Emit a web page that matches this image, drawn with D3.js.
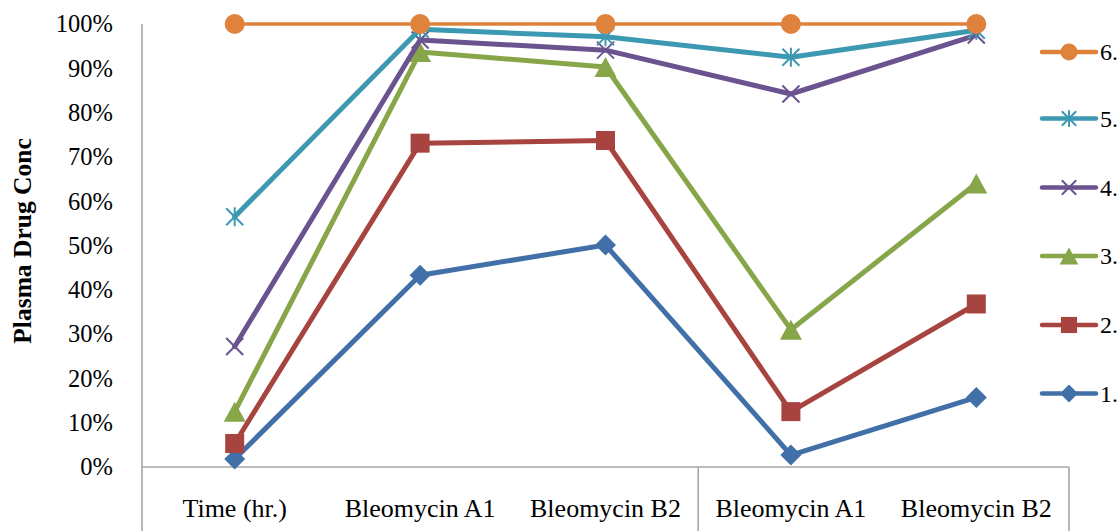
<!DOCTYPE html>
<html><head><meta charset="utf-8">
<script src="https://cdn.jsdelivr.net/npm/d3@7"></script>
<style>body{margin:0;background:#fff}svg{display:block}</style>
</head><body>
<svg id="c" width="1120" height="531"></svg>
<script>
const categories = ["Time (hr.)", "Bleomycin A1", "Bleomycin B2", "Bleomycin A1", "Bleomycin B2"];
const seriesNames = ["1.", "2.", "3.", "4.", "5.", "6."];
const s1 = [0.018, 0.433, 0.501, 0.027, 0.157];
const s2 = [0.053, 0.731, 0.737, 0.125, 0.368];
const s3 = [0.125, 0.937, 0.903, 0.310, 0.640];
const s4 = [0.272, 0.964, 0.941, 0.842, 0.975];
const s5 = [0.565, 0.988, 0.971, 0.925, 0.986];
const s6 = [1.0, 1.0, 1.0, 1.0, 1.0];
const yTicks = [0, 0.1, 0.2, 0.3, 0.4, 0.5, 0.6, 0.7, 0.8, 0.9, 1.0];

const seriesValues = [s1, s2, s3, s4, s5, s6];
const colors = ["#4170A8", "#A8443F", "#87A64A", "#6B5390", "#3D99B1", "#DE823C"];
const markers = ["diamond", "square", "triangle", "x", "asterisk", "circle"];
const widths = [5, 5, 5, 5, 5, 3.5];

const svg = d3.select("#c");
const L = 142, R = 1069, T = 24, B = 467;
const x = d3.scaleBand().domain(d3.range(categories.length)).range([L, R]);
const y = d3.scaleLinear().domain([0, 1]).range([B, T]);
const cx = i => x(i) + x.bandwidth() / 2;
const serif = "Liberation Serif, Times New Roman, serif";

// axes
const yAxis = svg.append("g").attr("transform", `translate(${L},0)`)
  .call(d3.axisLeft(y).tickValues(yTicks).tickFormat(d3.format(".0%")).tickSize(0).tickPadding(29));
yAxis.select(".domain").remove();
yAxis.selectAll("text").attr("font-family", serif).attr("font-size", 24.5).attr("fill", "#000");

const grey = "#A6A6A6";
svg.append("line").attr("x1", L).attr("x2", L).attr("y1", T).attr("y2", 531).attr("stroke", grey).attr("stroke-width", 1.6);
svg.append("line").attr("x1", L).attr("x2", R).attr("y1", B).attr("y2", B).attr("stroke", grey).attr("stroke-width", 1.6);
[3, 5].forEach(k => {
  const xx = L + k * x.bandwidth();
  svg.append("line").attr("x1", xx).attr("x2", xx).attr("y1", B).attr("y2", 531).attr("stroke", grey).attr("stroke-width", 1.6);
});

const xAxis = svg.append("g").attr("transform", `translate(0,${B})`)
  .call(d3.axisBottom(x).tickFormat(i => categories[i]).tickSize(0).tickPadding(0));
xAxis.select(".domain").remove();
xAxis.selectAll("text").attr("font-family", serif).attr("font-size", 26)
  .attr("fill", "#000").attr("dy", null).attr("y", 50);

// y title
svg.append("text").attr("transform", "translate(31,241) rotate(-90)")
  .attr("text-anchor", "middle").attr("font-family", serif)
  .attr("font-weight", "bold").attr("font-size", 25.5).text("Plasma Drug Conc");

function drawMarker(g, type, px, py, color, k) {
  if (type === "circle") {
    g.append("circle").attr("cx", px).attr("cy", py).attr("r", 10 * k).attr("fill", color);
  } else if (type === "square") {
    const s = 19 * k;
    g.append("rect").attr("x", px - s / 2).attr("y", py - s / 2).attr("width", s).attr("height", s).attr("fill", color);
  } else if (type === "diamond") {
    const h = 10.5 * k;
    g.append("path").attr("d", `M${px},${py - h}L${px + h},${py}L${px},${py + h}L${px - h},${py}Z`).attr("fill", color);
  } else if (type === "triangle") {
    const w = 11 * k, h = 10 * k;
    g.append("path").attr("d", `M${px},${py - h}L${px + w},${py + h}L${px - w},${py + h}Z`).attr("fill", color);
  } else if (type === "x") {
    const h = 8.5 * k;
    g.append("path").attr("d", `M${px - h},${py - h}L${px + h},${py + h}M${px + h},${py - h}L${px - h},${py + h}`)
      .attr("stroke", color).attr("stroke-width", 2).attr("fill", "none");
  } else if (type === "asterisk") {
    const h = 8.5 * k;
    g.append("path").attr("d", `M${px},${py - h - 1}L${px},${py + h + 1}M${px - h},${py - h}L${px + h},${py + h}M${px + h},${py - h}L${px - h},${py + h}`)
      .attr("stroke", color).attr("stroke-width", 2).attr("fill", "none");
  }
}

const line = d3.line().x((d, i) => cx(i)).y(d => y(d));
seriesValues.forEach((vals, si) => {
  const g = svg.append("g");
  g.append("path").attr("d", line(vals)).attr("fill", "none").attr("stroke", colors[si])
    .attr("stroke-width", widths[si]).attr("stroke-linejoin", "round").attr("stroke-linecap", "round");
  vals.forEach((v, i) => drawMarker(g, markers[si], cx(i), y(v), colors[si], 1));
});

// legend (reverse order: 6. at top)
const legY = [52, 118.5, 187.5, 256, 325, 393.5];
d3.range(6).forEach(j => {
  const si = 5 - j;
  const g = svg.append("g");
  const ly = legY[j];
  g.append("line").attr("x1", 1042).attr("x2", 1096).attr("y1", ly).attr("y2", ly)
    .attr("stroke", colors[si]).attr("stroke-width", 4.5).attr("stroke-linecap", "round");
  drawMarker(g, markers[si], 1069, ly, colors[si], 0.85);
  g.append("text").attr("x", 1100).attr("y", ly).attr("dy", "0.35em")
    .attr("font-family", serif).attr("font-size", 24).text(seriesNames[si]);
});
</script>
</body></html>
